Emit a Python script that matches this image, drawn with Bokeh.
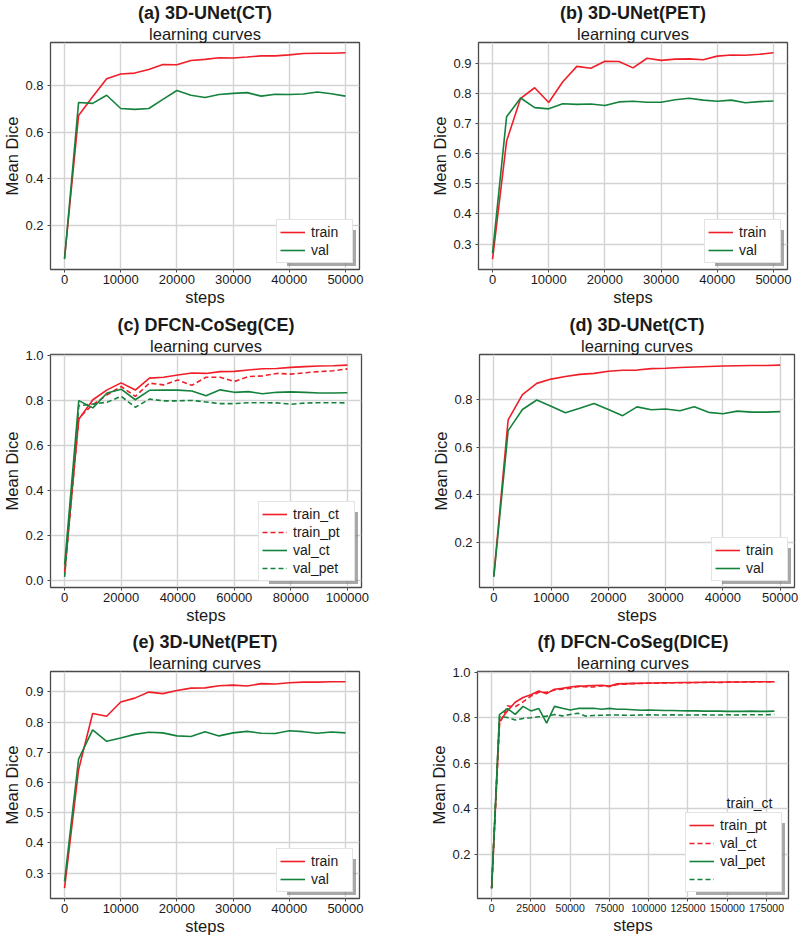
from bokeh.plotting import figure
from bokeh.layouts import column, row
from bokeh.models import (Legend, LegendItem, Label, FixedTicker,
                          PrintfTickFormatter, Range1d, Title)
from bokeh.embed import file_html
from bokeh.resources import INLINE

# ---------------- data ----------------
steps_50k = [0, 2500, 5000, 7500, 10000, 12500, 15000, 17500, 20000, 22500, 25000,
             27500, 30000, 32500, 35000, 37500, 40000, 42500, 45000, 47500, 50000]
steps_100k = [0, 5000, 10000, 15000, 20000, 25000, 30000, 35000, 40000, 45000, 50000,
              55000, 60000, 65000, 70000, 75000, 80000, 85000, 90000, 95000, 100000]
steps_180k = [0, 5000, 10000, 15000, 20000, 25000, 30000, 35000, 40000, 45000, 50000,
              55000, 60000, 65000, 70000, 75000, 80000, 85000, 90000, 95000, 100000,
              105000, 110000, 115000, 120000, 125000, 130000, 135000, 140000, 145000,
              150000, 155000, 160000, 165000, 170000, 175000, 180000]

a_train = [0.060, 0.672, 0.752, 0.830, 0.850, 0.854, 0.869, 0.891, 0.890, 0.908, 0.913,
           0.920, 0.919, 0.923, 0.928, 0.928, 0.932, 0.938, 0.939, 0.939, 0.941]
a_val = [0.055, 0.728, 0.724, 0.759, 0.702, 0.698, 0.702, 0.741, 0.779, 0.759, 0.749,
         0.762, 0.767, 0.770, 0.755, 0.763, 0.762, 0.764, 0.773, 0.765, 0.755]

b_train = [0.250, 0.642, 0.784, 0.819, 0.770, 0.839, 0.890, 0.884, 0.907, 0.906, 0.885,
           0.917, 0.910, 0.914, 0.915, 0.912, 0.924, 0.928, 0.927, 0.930, 0.935]
b_val = [0.270, 0.723, 0.785, 0.753, 0.749, 0.766, 0.764, 0.765, 0.760, 0.772, 0.774,
         0.771, 0.771, 0.779, 0.784, 0.778, 0.774, 0.778, 0.769, 0.773, 0.775]

c_train_ct = [0.040, 0.715, 0.802, 0.846, 0.877, 0.845, 0.898, 0.902, 0.912, 0.921, 0.919,
              0.927, 0.928, 0.934, 0.940, 0.941, 0.946, 0.949, 0.952, 0.953, 0.956]
c_train_pt = [0.030, 0.722, 0.780, 0.824, 0.861, 0.817, 0.876, 0.868, 0.890, 0.866, 0.902,
              0.902, 0.883, 0.905, 0.908, 0.919, 0.916, 0.922, 0.927, 0.931, 0.939]
c_val_ct = [0.070, 0.798, 0.766, 0.832, 0.849, 0.802, 0.844, 0.845, 0.845, 0.841, 0.820,
            0.846, 0.835, 0.838, 0.829, 0.835, 0.837, 0.835, 0.832, 0.832, 0.833]
c_val_pet = [0.015, 0.775, 0.783, 0.791, 0.817, 0.769, 0.805, 0.797, 0.797, 0.799, 0.792,
             0.785, 0.785, 0.789, 0.789, 0.788, 0.782, 0.787, 0.789, 0.789, 0.788]

d_train = [0.060, 0.716, 0.823, 0.870, 0.888, 0.899, 0.908, 0.912, 0.921, 0.925, 0.926,
           0.932, 0.934, 0.937, 0.939, 0.941, 0.943, 0.944, 0.945, 0.945, 0.947]
d_val = [0.055, 0.671, 0.760, 0.800, 0.774, 0.746, 0.765, 0.785, 0.760, 0.734, 0.771,
         0.759, 0.762, 0.755, 0.772, 0.748, 0.742, 0.753, 0.749, 0.749, 0.751]

e_train = [0.250, 0.642, 0.828, 0.819, 0.866, 0.879, 0.899, 0.894, 0.904, 0.912, 0.913,
           0.920, 0.922, 0.919, 0.927, 0.926, 0.930, 0.932, 0.932, 0.933, 0.933]
e_val = [0.273, 0.677, 0.774, 0.736, 0.747, 0.759, 0.766, 0.764, 0.754, 0.752, 0.768,
         0.754, 0.764, 0.769, 0.763, 0.762, 0.771, 0.768, 0.763, 0.767, 0.764]

f_train_ct = [0.050, 0.783, 0.830, 0.868, 0.889, 0.901, 0.918, 0.906, 0.925, 0.929, 0.935,
              0.939, 0.940, 0.942, 0.943, 0.939, 0.949, 0.950, 0.951, 0.952, 0.953,
              0.953, 0.954, 0.954, 0.955, 0.955, 0.955, 0.956, 0.956, 0.956, 0.957,
              0.957, 0.957, 0.958, 0.958, 0.958, 0.958]
f_train_pt = [0.050, 0.770, 0.852, 0.848, 0.870, 0.895, 0.912, 0.912, 0.922, 0.926, 0.930,
              0.937, 0.936, 0.935, 0.941, 0.937, 0.946, 0.948, 0.950, 0.951, 0.952,
              0.952, 0.953, 0.954, 0.954, 0.954, 0.955, 0.955, 0.956, 0.955, 0.956,
              0.957, 0.957, 0.957, 0.958, 0.958, 0.957]
f_val_ct = [0.050, 0.814, 0.840, 0.815, 0.850, 0.830, 0.841, 0.776, 0.850, 0.842, 0.834,
            0.841, 0.841, 0.842, 0.837, 0.841, 0.837, 0.837, 0.835, 0.833, 0.834,
            0.833, 0.832, 0.832, 0.831, 0.830, 0.830, 0.829, 0.829, 0.829, 0.828,
            0.828, 0.828, 0.829, 0.828, 0.828, 0.829]
f_val_pet = [0.050, 0.805, 0.801, 0.790, 0.797, 0.800, 0.804, 0.807, 0.814, 0.808, 0.814,
             0.820, 0.807, 0.810, 0.811, 0.812, 0.812, 0.811, 0.811, 0.812, 0.813,
             0.812, 0.812, 0.813, 0.812, 0.812, 0.812, 0.813, 0.812, 0.812, 0.813,
             0.812, 0.813, 0.813, 0.813, 0.813, 0.814]

titles = ["(a) 3D-UNet(CT)", "(b) 3D-UNet(PET)", "(c) DFCN-CoSeg(CE)",
          "(d) 3D-UNet(CT)", "(e) 3D-UNet(PET)", "(f) DFCN-CoSeg(DICE)"]
subtitle = "learning curves"
labels_2 = ["train", "val"]
labels_c = ["train_ct", "train_pt", "val_ct", "val_pet"]
labels_f = ["train_pt", "val_ct", "val_pet", " "]
legend_title_f = "train_ct"

xticks_50k = [0, 10000, 20000, 30000, 40000, 50000]
xticks_100k = [0, 20000, 40000, 60000, 80000, 100000]
xticks_180k = [0, 25000, 50000, 75000, 100000, 125000, 150000, 175000]
yticks_02 = [0.2, 0.4, 0.6, 0.8]
yticks_03 = [0.3, 0.4, 0.5, 0.6, 0.7, 0.8, 0.9]
yticks_00 = [0.0, 0.2, 0.4, 0.6, 0.8, 1.0]
yticks_f = [0.2, 0.4, 0.6, 0.8, 1.0]

# ---------------- style ----------------
FONT = "Liberation Sans"
RED = "#f01e28"
GREEN = "#14823c"
DARK = "#4a4a4a"
TXT = "#1a1a1a"
ROW_H = 18


def make_panel(title, steps, series, labels, xticks, yticks, h, borders,
               legend_title=None, xtick_size="13px", label_w=38):
    w = 400
    left, right, top, bottom = borders
    fw = w - left - right
    allv = [v for s in series for v in s[0]]
    ymin, ymax = min(allv), max(allv)
    ysp = ymax - ymin
    xmin, xmax = min(steps), max(steps)
    xsp = xmax - xmin
    p = figure(width=w, height=h, output_backend="svg", toolbar_location=None,
               title=None,
               x_range=Range1d(xmin - 0.05 * xsp, xmax + 0.05 * xsp),
               y_range=Range1d(ymin - 0.05 * ysp, ymax + 0.05 * ysp),
               min_border_left=left, min_border_right=right,
               min_border_top=top, min_border_bottom=bottom,
               background_fill_color="white", border_fill_color="white")
    xt = FixedTicker(ticks=xticks)
    yt = FixedTicker(ticks=yticks)
    p.xaxis.ticker = xt
    p.yaxis.ticker = yt
    p.xgrid.ticker = xt
    p.ygrid.ticker = yt
    p.xaxis.formatter = PrintfTickFormatter(format="%d")
    p.yaxis.formatter = PrintfTickFormatter(format="%.1f")
    p.xaxis.axis_label = "steps"
    p.yaxis.axis_label = "Mean Dice"
    for ax in (p.xaxis, p.yaxis):
        ax.axis_label_text_font = FONT
        ax.axis_label_text_font_size = "16.5px"
        ax.axis_label_text_font_style = "normal"
        ax.axis_label_text_color = TXT
        ax.axis_label_standoff = 1
        ax.major_label_text_font = FONT
        ax.major_label_text_color = TXT
        ax.axis_line_color = None
        ax.major_tick_out = 3
        ax.major_tick_in = 0
        ax.major_tick_line_color = DARK
        ax.minor_tick_line_color = None
    p.xaxis.major_label_standoff = 2
    p.yaxis.major_label_standoff = 4
    p.yaxis.major_label_text_font_size = "13px"
    p.xaxis.major_label_text_font_size = xtick_size
    p.grid.grid_line_color = "#d3d3d3"
    p.grid.grid_line_width = 1.4
    p.outline_line_color = DARK
    p.outline_line_width = 1.3

    # titles: subtitle first (closest to frame), then bold title above it
    p.add_layout(Title(text=subtitle, align="center", text_font=FONT,
                       text_font_size="16.5px", text_font_style="normal",
                       text_color=TXT, standoff=0, offset=0), "above")
    p.add_layout(Title(text=title, align="center", text_font=FONT,
                       text_font_size="18px", text_font_style="bold",
                       text_color=TXT, standoff=0, offset=0), "above")

    rends = []
    for ys, color, dash in series:
        r = p.line(steps, ys, line_color=color, line_width=1.6, line_dash=dash)
        rends.append(r)

    common = dict(location="bottom_right", glyph_width=25, glyph_height=ROW_H,
                  label_height=ROW_H, label_width=label_w, label_standoff=6,
                  padding=3, spacing=0, label_text_font=FONT,
                  label_text_font_size="14px")
    shadow = Legend(items=[LegendItem(label=" ", renderers=[r]) for r in rends],
                    margin=3, background_fill_color="#7a7a7a",
                    background_fill_alpha=0.65, border_line_color=None, **common)
    main = Legend(items=[LegendItem(label=lab, renderers=[r]) for lab, r in zip(labels, rends)],
                  margin=6, label_text_color=TXT, background_fill_color="white",
                  background_fill_alpha=1.0, border_line_color="#c8c8c8",
                  border_line_width=1, **common)
    p.add_layout(shadow)
    p.add_layout(main)

    if legend_title is not None:
        n = len(labels)
        p.add_layout(Label(x=fw - 16, y=6 + n * ROW_H + 6 + 12, x_units="screen", y_units="screen",
                           text=legend_title, text_align="right", text_baseline="alphabetic",
                           text_font=FONT, text_font_size="14px", text_color=TXT))
    return p


SOLID = "solid"
DASH = "5 3"

# borders: (left, right, top, bottom)
pa = make_panel(titles[0], steps_50k, [(a_train, RED, SOLID), (a_val, GREEN, SOLID)],
                labels_2, xticks_50k, yticks_02, 312, (46, 41, 38, 40))
pb = make_panel(titles[1], steps_50k, [(b_train, RED, SOLID), (b_val, GREEN, SOLID)],
                labels_2, xticks_50k, yticks_03, 312, (78, 13, 39, 43))
pc = make_panel(titles[2], steps_100k,
                [(c_train_ct, RED, SOLID), (c_train_pt, RED, DASH),
                 (c_val_ct, GREEN, SOLID), (c_val_pet, GREEN, DASH)],
                labels_c, xticks_100k, yticks_00, 315, (46, 39, 40, 40), label_w=58)
pd_ = make_panel(titles[3], steps_50k, [(d_train, RED, SOLID), (d_val, GREEN, SOLID)],
                 labels_2, xticks_50k, yticks_02, 315, (79, 6, 40, 40))
pe = make_panel(titles[4], steps_50k, [(e_train, RED, SOLID), (e_val, GREEN, SOLID)],
                labels_2, xticks_50k, yticks_03, 311, (48, 41, 44, 40))
pf = make_panel(titles[5], steps_180k,
                [(f_train_ct, RED, SOLID), (f_train_pt, RED, DASH),
                 (f_val_ct, GREEN, SOLID), (f_val_pet, GREEN, DASH)],
                labels_f, xticks_180k, yticks_f, 311, (77, 12, 43, 40),
                legend_title=legend_title_f, xtick_size="10.5px", label_w=58)

layout = column(row(pa, pb), row(pc, pd_), row(pe, pf))
open("out.html", "w").write(file_html(layout, INLINE))
